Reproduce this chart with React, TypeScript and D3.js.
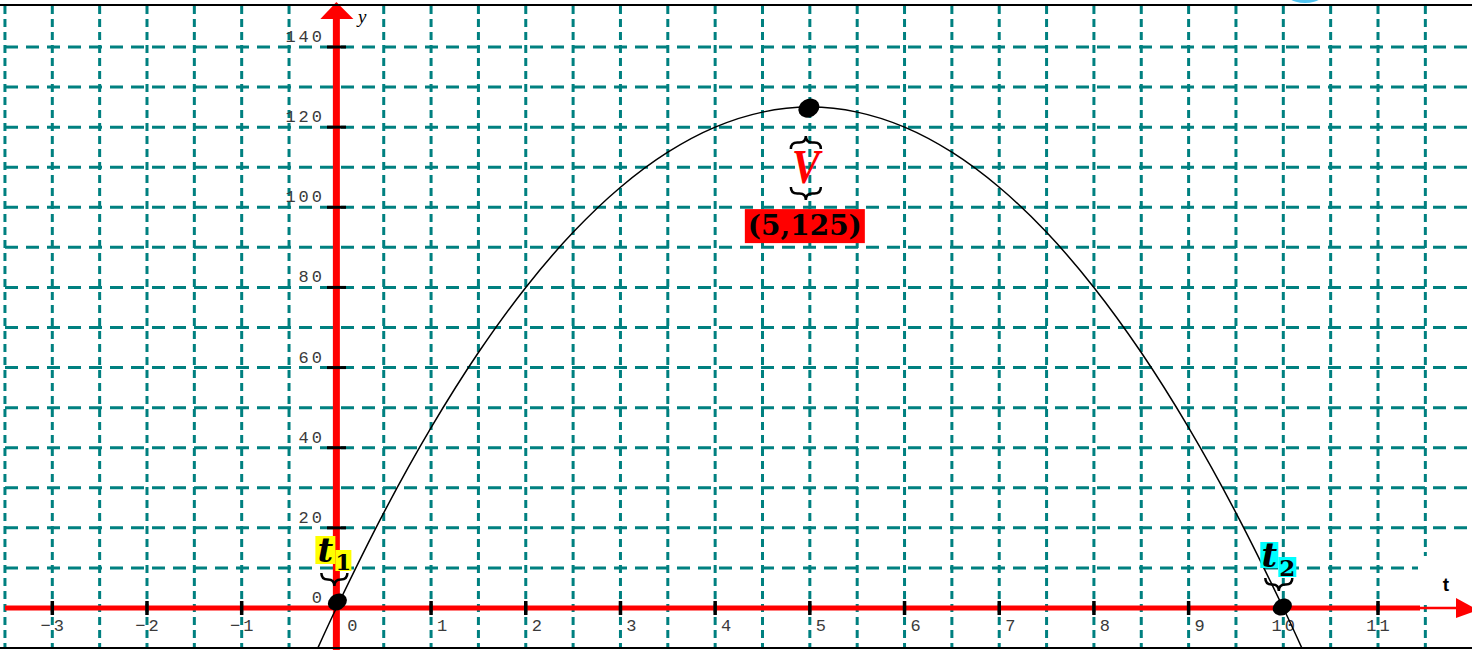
import React from "react";
import * as d3 from "d3";

const W = 1472;
const H = 650;

// axis ticks
const xTicks = [-3, -2, -1, 0, 1, 2, 3, 4, 5, 6, 7, 8, 9, 10, 11];
const yTicks = [0, 20, 40, 60, 80, 100, 120, 140];
const xGrid = [-3.5, -3, -2.5, -2, -1.5, -1, -0.5, 0, 0.5, 1, 1.5, 2, 2.5, 3, 3.5, 4, 4.5, 5, 5.5, 6, 6.5, 7, 7.5, 8, 8.5, 9, 9.5, 10, 10.5, 11, 11.5];
const yGrid = [10, 20, 30, 40, 50, 60, 70, 80, 90, 100, 110, 120, 130, 140];

// curve samples
const curveT = [-0.2, 0, 0.5, 1, 1.5, 2, 2.5, 3, 3.5, 4, 4.5, 5, 5.5, 6, 6.5, 7, 7.5, 8, 8.5, 9, 9.5, 10, 10.2];
const curveY = [-10.2, 0, 23.75, 45, 63.75, 80, 93.75, 105, 113.75, 120, 123.75, 125, 123.75, 120, 113.75, 105, 93.75, 80, 63.75, 45, 23.75, 0, -10.2];

// key points
const pointT = [0, 5, 10];
const pointY = [0, 125, 0];

function underbrace(x1: number, x2: number, yTop: number, h: number) {
  const xm = (x1 + x2) / 2;
  const hh = h / 2;
  const k = Math.abs(hh);
  return `M${x1},${yTop} Q${x1},${yTop + hh} ${x1 + k},${yTop + hh} L${xm - k},${yTop + hh} Q${xm},${yTop + hh} ${xm},${yTop + h} Q${xm},${yTop + hh} ${xm + k},${yTop + hh} L${x2 - k},${yTop + hh} Q${x2},${yTop + hh} ${x2},${yTop}`;
}

const LS = 3;

export default function App() {
  const x = d3.scaleLinear().domain([-3, 11]).range([52.3, 1378]);
  const y = d3.scaleLinear().domain([0, 140]).range([608, 47]);

  const line = d3
    .line<number>()
    .x((_, i) => x(curveT[i]))
    .y((d) => y(d))
    .curve(d3.curveCatmullRom.alpha(0.5));

  const x0 = x(0);
  const y0 = y(0);
  const teal = "#008080";
  const monoStyle: React.CSSProperties = {
    fontFamily: "'Liberation Mono', 'DejaVu Sans Mono', monospace",
    fontSize: 17,
    letterSpacing: LS,
    fill: "#3a3a3a",
  };

  const xLabelX = (t: number) => {
    if (t < 0) return x(t);
    if (t === 0) return x(t) + 16;
    if (t < 10) return x(t) + 11;
    return x(t);
  };

  const [p1, pv, p2] = pointT.map((t, i) => ({ px: x(t), py: y(pointY[i]) }));

  return (
    <svg
      width={W}
      height={H}
      style={{ position: "absolute", left: 0, top: 0, background: "#fff" }}
    >
      <defs>
        <clipPath id="plot">
          <rect x={5} y={5} width={W - 5} height={643} />
        </clipPath>
        <clipPath id="topclip">
          <rect x={0} y={0} width={W} height={5} />
        </clipPath>
      </defs>
      <rect x={0} y={0} width={W} height={H} fill="#fff" />

      {/* grid */}
      <g stroke={teal} strokeWidth={3}>
        {xGrid.map((g) => (
          <line key={"vx" + g} x1={x(g)} x2={x(g)} y1={6} y2={648} strokeDasharray="8 5" />
        ))}
        {yGrid.map((g) => (
          <line key={"hy" + g} x1={5} x2={W} y1={y(g)} y2={y(g)} strokeDasharray="13 8" />
        ))}
      </g>

      {/* white box behind t label */}
      <rect x={1418} y={556} width={W - 1418} height={49} fill="#fff" />

      {/* axes */}
      <line x1={5} x2={1420} y1={y0} y2={y0} stroke="#ff0000" strokeWidth={5} />
      <line x1={1420} x2={1460} y1={y0} y2={y0} stroke="#ff0000" strokeWidth={2.5} />
      <polygon points={`1456,598 1478,${y0 + 2} 1456,618`} fill="#ff0000" />
      <line x1={x0} x2={x0} y1={16} y2={H} stroke="#ff0000" strokeWidth={7} />
      <polygon points={`${x0},2 ${x0 - 16},19 ${x0 + 17},19`} fill="#ff0000" />

      {/* ticks */}
      {xTicks.filter((t) => t !== 0).map((t) => (
        <line key={"xt" + t} x1={x(t)} x2={x(t)} y1={601} y2={615} stroke="#000" strokeWidth={3.5} />
      ))}
      {yTicks.filter((t) => t !== 0).map((t) => (
        <line key={"yt" + t} x1={327} x2={346} y1={y(t)} y2={y(t)} stroke="#000" strokeWidth={3} />
      ))}

      {/* tick labels */}
      {xTicks.map((t) => (
        <text key={"xl" + t} x={xLabelX(t) + LS / 2} y={631} textAnchor="middle" style={monoStyle}>
          {t < 0 ? "\u2212" + Math.abs(t) : String(t)}
        </text>
      ))}
      {yTicks.map((t) => (
        <text key={"yl" + t} x={322 + LS} y={y(t) - 5} textAnchor="end" style={monoStyle}>
          {String(t)}
        </text>
      ))}

      {/* axis names */}
      <text x={358} y={23} style={{ fontFamily: "'Liberation Serif', serif", fontStyle: "italic", fontSize: 19, fill: "#000" }}>
        y
      </text>
      <text x={1446} y={591} textAnchor="middle" style={{ fontFamily: "'Liberation Sans', Arial, sans-serif", fontWeight: "bold", fontSize: 19, fill: "#000" }}>
        t
      </text>

      {/* curve */}
      <path d={line(curveY) || ""} fill="none" stroke="#000" strokeWidth={1.5} clipPath="url(#plot)" />

      {/* points */}
      <ellipse cx={p1.px + 1} cy={p1.py - 6} rx={10} ry={8} transform={`rotate(-30 ${p1.px + 1} ${p1.py - 6})`} fill="#000" />
      <ellipse cx={pv.px - 1} cy={pv.py + 1} rx={11} ry={9} transform={`rotate(-30 ${pv.px - 1} ${pv.py + 1})`} fill="#000" />
      <ellipse cx={p2.px - 1} cy={p2.py - 1} rx={10} ry={8} transform={`rotate(-30 ${p2.px - 1} ${p2.py - 1})`} fill="#000" />

      {/* vertex annotation */}
      <path d={underbrace(pv.px - 19, pv.px + 11, pv.py + 42, -13)} fill="none" stroke="#000" strokeWidth={2.5} />
      <text
        x={pv.px - 4}
        y={pv.py + 76}
        textAnchor="middle"
        textLength={28}
        lengthAdjust="spacingAndGlyphs"
        style={{ fontFamily: "'Liberation Serif', serif", fontStyle: "italic", fontWeight: "bold", fontSize: 48, fill: "#ff0000" }}
      >
        V
      </text>
      <path d={underbrace(pv.px - 19, pv.px + 11, pv.py + 80, 13)} fill="none" stroke="#000" strokeWidth={2.5} />
      <rect x={pv.px - 65} y={pv.py + 102} width={120} height={34} fill="#ff0000" />
      <text
        x={pv.px - 5}
        y={pv.py + 128}
        textAnchor="middle"
        textLength={114}
        lengthAdjust="spacingAndGlyphs"
        style={{ fontFamily: "'DejaVu Serif', serif", fontWeight: "bold", fontSize: 28, fill: "#000" }}
      >
        (5,125)
      </text>

      {/* t1 annotation */}
      <rect x={p1.px - 21} y={536} width={20} height={28} fill="#ffff00" />
      <rect x={p1.px - 1} y={550} width={16} height={21} fill="#ffff00" />
      <text x={p1.px - 11} y={562} textAnchor="middle" style={{ fontFamily: "'DejaVu Serif', serif", fontStyle: "italic", fontWeight: "bold", fontSize: 34, fill: "#000" }}>
        t
      </text>
      <text x={p1.px + 7} y={570} textAnchor="middle" style={{ fontFamily: "'DejaVu Serif', serif", fontWeight: "bold", fontSize: 23, fill: "#000" }}>
        1
      </text>
      <path d={underbrace(p1.px - 15, p1.px + 11, 573, 13)} fill="none" stroke="#000" strokeWidth={2.5} />

      {/* t2 annotation */}
      <rect x={p2.px - 23} y={542} width={18} height={26} fill="#00ffff" />
      <rect x={p2.px - 5} y={557} width={18} height={20} fill="#00ffff" />
      <text x={p2.px - 14} y={567} textAnchor="middle" style={{ fontFamily: "'DejaVu Serif', serif", fontStyle: "italic", fontWeight: "bold", fontSize: 34, fill: "#000" }}>
        t
      </text>
      <text x={p2.px + 4} y={576} textAnchor="middle" style={{ fontFamily: "'DejaVu Serif', serif", fontWeight: "bold", fontSize: 23, fill: "#000" }}>
        2
      </text>
      <path d={underbrace(p2.px - 18, p2.px + 9, 578, 13)} fill="none" stroke="#000" strokeWidth={2.5} />

      {/* decoration at top right */}
      <ellipse cx={1305} cy={-14} rx={24} ry={17} fill="#4fc3f0" clipPath="url(#topclip)" />

      {/* borders */}
      <line x1={0} x2={W} y1={5} y2={5} stroke="#000" strokeWidth={2} />
      <line x1={0} x2={W} y1={648} y2={648} stroke="#000" strokeWidth={2} />
    </svg>
  );
}
